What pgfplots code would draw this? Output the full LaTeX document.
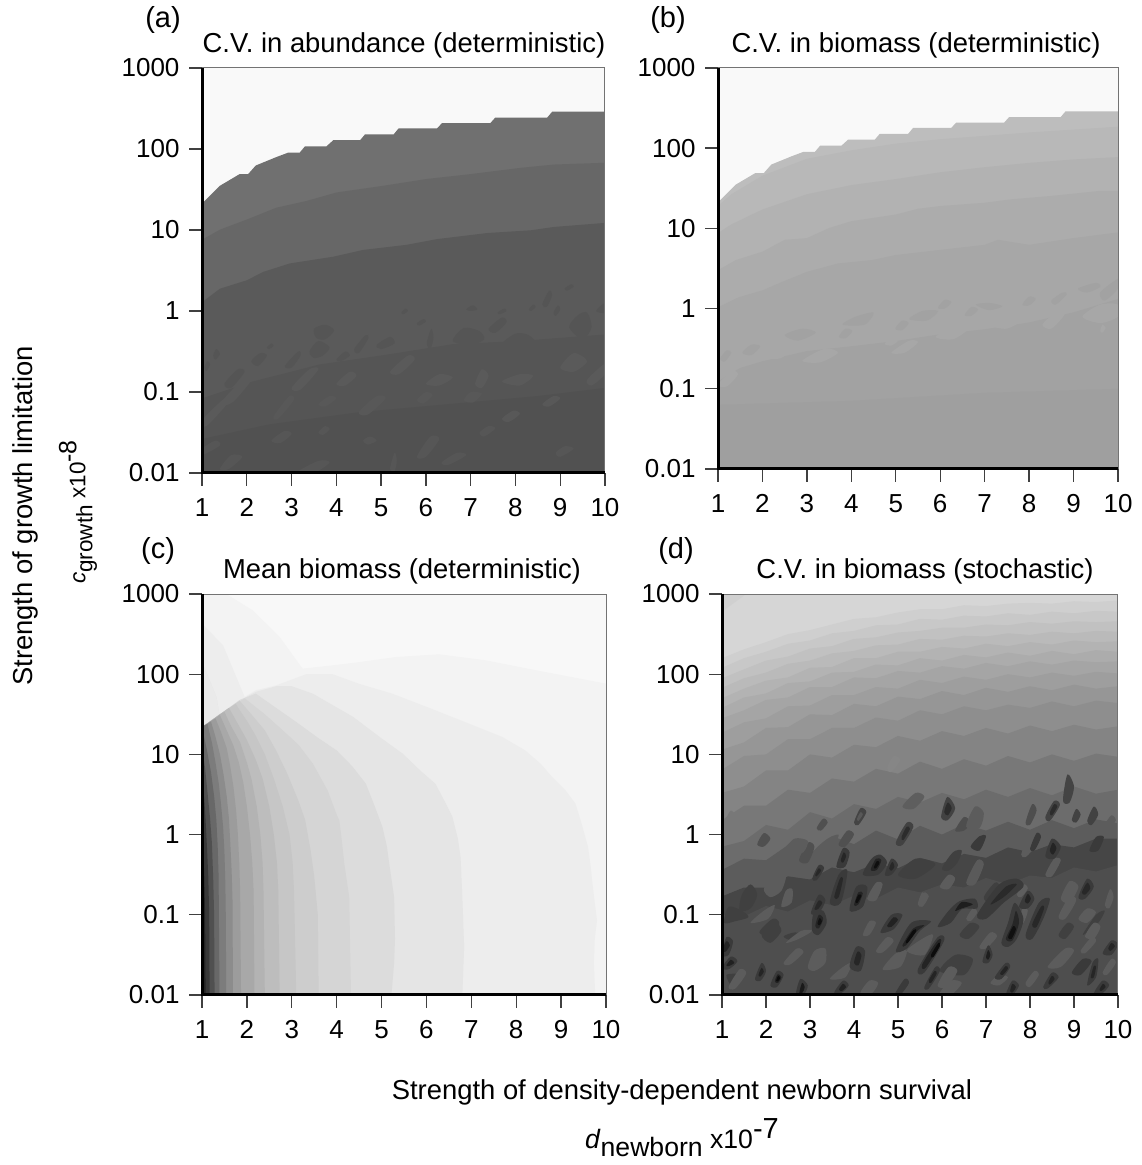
\documentclass[border=0pt]{standalone}
\usepackage{pgfplots}
\pgfplotsset{compat=1.18}
\usepackage{fontspec}
\setmainfont{Liberation Sans}
\newcommand\PG[2]{\addplot[draw=none,fill={rgb,255:red,#1;green,#1;blue,#1},forget plot] coordinates {#2} --cycle;}
\newcommand\B[2]{\addplot[draw=none,fill={rgb,255:red,#1;green,#1;blue,#1},forget plot,smooth cycle,tension=0.5] coordinates {#2};}
\newcommand\BH[2]{\PG{#1}{#2 (10,-2) (1,-2)}}
\newcommand\BC[2]{\PG{#1}{#2 (1,-2)}}
\pgfplotsset{pan/.style={scale only axis,anchor=south west,xmin=1,xmax=10,ymin=-2,ymax=3,
  xtick={1,...,10},xticklabels={1,2,3,4,5,6,7,8,9,10},
  ytick={-2,-1,0,1,2,3},yticklabels={0.01,0.1,1,10,100,1000},
  tick pos=left,tick align=outside,major tick length=13pt,
  major tick style={line width=1.4pt,color=black!75},
  axis line style={line width=1pt,color=black!55},
  axis on top,no markers,
  tick label style={font=\fontsize{26}{28}\selectfont},
  xticklabel style={yshift=-9pt},yticklabel style={xshift=-6pt}}}
\newcommand\TXT{\fontsize{27.4}{30}\selectfont}
\begin{document}
\begin{tikzpicture}[x=1pt,y=1pt]
\useasboundingbox (0,0) rectangle (1141,1165);
% ---------- (a)
\begin{axis}[pan,at={(202pt,692pt)},width=403pt,height=405pt]
\PG{249}{(1,-2)(1,3)(10,3)(10,-2)}
\BH{112}{(1,1.325)(1.4,1.546)(1.84,1.69)(2.03,1.69)(2.2,1.796)(2.66,1.9)(2.92,1.954)(3.18,1.954)(3.3,2.033)(3.78,2.033)(3.93,2.108)(4.53,2.108)(4.64,2.18)(5.28,2.18)(5.39,2.254)(6.25,2.254)(6.36,2.32)(7.44,2.32)(7.55,2.388)(8.71,2.388)(8.82,2.46)(10,2.46)}
\BH{103}{(1,.879)(1.4,1.004)(2,1.129)(2.66,1.275)(3.33,1.358)(4,1.4625)(5.05,1.546)(6.02,1.63)(7,1.69)(8.11,1.767)(8.86,1.808)(10,1.83)}
\BH{90}{(1,.108)(1.4,.275)(2,.379)(2.37,.483)(2.96,.587)(3.93,.67)(4.6,.754)(5.57,.817)(6.25,.8875)(7.37,.9625)(8.34,.996)(8.86,1.0375)(10,1.0875)}
\BH{85}{(1,-1.08)(2.14,-.87)(3.63,-.66)(5.12,-.54)(6.6,-.41)(8.1,-.37)(10,-.29)}
\BH{81}{(1,-1.58)(2.5,-1.4)(4.5,-1.25)(6.5,-1.15)(8.5,-1.05)(10,-.95)}
% dark flecks in band 3
\B{85}{(3.5,-.22)(3.75,-.17)(3.95,-.24)(3.75,-.35)(3.55,-.33)}
\B{85}{(6.02,-.4)(6.12,-.22)(6.17,-.33)(6.1,-.47)}
\B{85}{(4.4,-.47)(4.65,-.3)(4.72,-.33)(4.5,-.52)}
\B{85}{(4.9,-.42)(5.2,-.32)(5.3,-.4)(5,-.47)}
\B{85}{(3.4,-.5)(3.6,-.37)(3.85,-.45)(3.7,-.55)(3.5,-.58)}
\B{85}{(1.25,-.55)(1.32,-.47)(1.4,-.53)(1.3,-.6)}
\B{85}{(2.85,-.68)(3.15,-.5)(3.2,-.55)(3,-.7)}
\B{85}{(4,-.6)(4.2,-.5)(4.3,-.55)(4.1,-.62)}
\B{85}{(6.6,-.37)(6.85,-.21)(7.2,-.25)(7.3,-.35)(7,-.42)}
\B{85}{(7.4,-.22)(7.7,-.08)(7.8,-.14)(7.55,-.27)}
\B{85}{(8.6,.08)(8.75,.25)(8.82,.2)(8.7,.05)}
\B{85}{(9.2,-.2)(9.4,-.05)(9.6,-.02)(9.7,-.2)(9.5,-.35)}
\B{85}{(9.8,0)(10,.1)(10,-.02)}
\B{85}{(8.85,-.02)(8.95,.07)(9,.02)(8.9,-.06)}
\B{85}{(6.9,.02)(7.05,.07)(7.15,.02)(7,0)}
\B{85}{(7.7,-.42)(8,-.28)(8.3,-.3)(8.6,-.45)(8.9,-.55)(8.5,-.6)(8.1,-.55)}
\B{85}{(9.3,-.55)(9.6,-.35)(10,-.38)(10,-.6)(9.6,-.65)}
\B{85}{(2.1,-.62)(2.3,-.52)(2.45,-.55)(2.25,-.68)}
\B{85}{(1.5,-.9)(1.8,-.72)(1.95,-.75)(1.65,-.95)}
\B{85}{(9.1,.28)(9.25,.33)(9.3,.3)(9.15,.25)}
\B{85}{(7.6,-.02)(7.75,.03)(7.8,0)(7.65,-.04)}
\B{85}{(5.45,-.02)(5.55,.03)(5.6,0)(5.5,-.04)}
\B{85}{(5.8,-.15)(5.95,-.1)(6,-.13)(5.85,-.18)}
\B{85}{(2.45,-.45)(2.55,-.4)(2.6,-.43)(2.5,-.47)}
\B{85}{(1.05,-.7)(1.12,-.62)(1.18,-.66)(1.1,-.74)}
\B{85}{(8.3,.02)(8.4,.08)(8.45,.05)(8.35,0)}
% lighter flecks in bands 4 and 5
\B{90}{(4,-.9)(4.3,-.75)(4.45,-.8)(4.2,-.92)}
\B{90}{(7.1,-.9)(7.25,-.72)(7.4,-.8)(7.25,-.95)}
\B{90}{(7.7,-.87)(8.1,-.78)(8.4,-.8)(8.1,-.92)}
\B{90}{(5.2,-.75)(5.6,-.55)(5.75,-.6)(5.4,-.78)}
\B{90}{(3,-.95)(3.4,-.72)(3.6,-.72)(3.2,-.97)}
\B{90}{(1.4,-1.15)(1.9,-.85)(2.2,-.78)(1.7,-1.12)}
\B{90}{(1,-1.35)(1.5,-1.08)(1.6,-1.12)(1.1,-1.42)}
\B{90}{(9,-.7)(9.3,-.52)(9.6,-.62)(9.3,-.75)}
\B{90}{(9.6,-.85)(10,-.65)(10,-.78)(9.7,-.92)}
\B{90}{(6,-.9)(6.3,-.78)(6.6,-.82)(6.3,-.92)}
\B{88}{(4.5,-1.25)(4.9,-1.05)(5.1,-1.08)(4.7,-1.28)}
\B{88}{(6.85,-1.1)(7,-1)(7.25,-1.02)(7.05,-1.13)}
\B{88}{(2.6,-1.3)(2.95,-1.05)(3.05,-1.1)(2.7,-1.33)}
\B{88}{(7.7,-1.33)(7.95,-1.23)(8.1,-1.27)(7.85,-1.37)}
\B{88}{(5.8,-1.1)(6,-1)(6.15,-1.04)(5.95,-1.14)}
\B{88}{(8.6,-1.15)(8.85,-1.05)(9,-1.08)(8.75,-1.18)}
\B{88}{(3.6,-1.15)(3.85,-1.05)(4,-1.08)(3.75,-1.18)}
\B{86}{(5.8,-1.8)(6.1,-1.55)(6.3,-1.58)(6,-1.8)}
\B{86}{(1.4,-1.95)(1.65,-1.78)(1.9,-1.8)(1.6,-1.95)}
\B{86}{(2.55,-1.6)(2.85,-1.48)(3,-1.52)(2.75,-1.63)}
\B{86}{(1,-1.7)(1.3,-1.6)(1.4,-1.66)(1,-1.78)}
\B{86}{(6.35,-1.87)(6.7,-1.75)(6.9,-1.78)(6.5,-1.9)}
\B{86}{(3.1,-2)(3.6,-1.85)(3.85,-1.87)(3.5,-2)}
\B{86}{(5.2,-1.95)(5.3,-1.75)(5.35,-1.85)(5.3,-1.98)}
\B{86}{(8.9,-1.75)(9.1,-1.67)(9.3,-1.7)(9,-1.8)}
\B{86}{(4.6,-1.6)(4.75,-1.55)(4.9,-1.6)(4.7,-1.65)}
\B{86}{(7.2,-1.5)(7.4,-1.42)(7.55,-1.45)(7.3,-1.55)}
\B{86}{(3.6,-1.5)(3.75,-1.42)(3.85,-1.46)(3.7,-1.53)}
\end{axis}
% ---------- (b)
\begin{axis}[pan,at={(718pt,696pt)},width=400pt,height=401pt]
\PG{249}{(1,-2)(1,3)(10,3)(10,-2)}
\BH{189}{(1,1.325)(1.4,1.546)(1.84,1.69)(2.03,1.69)(2.2,1.796)(2.66,1.9)(2.92,1.954)(3.18,1.954)(3.3,2.033)(3.78,2.033)(3.93,2.108)(4.53,2.108)(4.64,2.18)(5.28,2.18)(5.39,2.254)(6.25,2.254)(6.36,2.32)(7.44,2.32)(7.55,2.388)(8.71,2.388)(8.82,2.46)(10,2.46)}
\BH{184}{(1,1.28)(1.3,1.426)(2,1.657)(3,1.868)(4,1.973)(5,2.057)(6,2.112)(8,2.196)(10,2.268)}
\BH{178}{(1,.942)(1.3,1.05)(2,1.236)(3,1.426)(4,1.54)(5,1.615)(6,1.7)(7,1.763)(8,1.817)(9,1.86)(10,1.889)}
\BH{172}{(1,.479)(1.4,.605)(2,.71)(2.5,.858)(3,.879)(3.5,1.005)(4,1.09)(5,1.173)(5.5,1.245)(6,1.279)(7,1.32)(7.6,1.363)(8.5,1.405)(9.6,1.468)(10,1.468)}
\BH{167}{(1,.016)(1.47,.142)(2,.227)(2.44,.332)(3,.458)(3.7,.563)(4.47,.605)(5,.668)(6,.732)(7,.795)(7.3,.858)(8,.795)(9,.879)(10,.95)}
\BH{162}{(1,-.91)(1.5,-.74)(2,-.657)(3,-.53)(4,-.47)(5,-.405)(6,-.32)(7,-.258)(8,-.173)(9,-.047)(10,.12)}
\BH{159}{(1,-1.2)(4,-1.15)(7,-1.05)(10,-1)}
\B{167}{(1,-.75)(1.25,-.5)(1.4,-.55)(1.15,-.8)}
\B{167}{(1,-.95)(1.3,-.78)(1.45,-.82)(1.2,-.97)}
\B{167}{(1.8,-.62)(2.2,-.5)(2.6,-.5)(2.4,-.62)}
\B{167}{(2.9,-.65)(3.4,-.5)(3.7,-.55)(3.3,-.67)}
\B{167}{(4.9,-.55)(5.3,-.4)(5.5,-.42)(5.2,-.55)}
\B{167}{(5.9,-.35)(6.4,-.2)(6.7,-.22)(6.3,-.38)}
\B{167}{(7.1,-.2)(7.5,-.1)(7.9,-.12)(7.5,-.25)}
\B{167}{(8.3,-.2)(8.6,-.05)(8.8,-.07)(8.5,-.25)}
\B{167}{(9.2,-.1)(9.6,.05)(10,.05)(10,-.1)(9.6,-.18)}
\B{167}{(9.6,-.28)(9.65,-.2)(9.72,-.24)(9.65,-.3)}
\B{167}{(3.95,-.4)(4.1,-.33)(4.25,-.36)(4.1,-.42)}
\B{167}{(4.75,-.44)(4.9,-.37)(5.05,-.4)(4.9,-.46)}
\B{162}{(3.8,-.2)(4.1,-.1)(4.5,-.05)(4.3,-.2)}
\B{162}{(5.3,-.13)(5.6,-.03)(5.95,-.03)(5.7,-.15)}
\B{162}{(6.8,.05)(7.1,.07)(7.4,.03)(7.1,-.02)}
\B{162}{(8.5,.1)(8.75,.2)(8.85,.18)(8.6,.05)}
\B{162}{(9.1,.25)(9.5,.32)(9.6,.27)(9.3,.2)}
\B{162}{(9.6,.2)(10,.37)(10,.25)(9.7,.1)}
\B{162}{(2.5,-.33)(2.9,-.25)(3.2,-.3)(2.8,-.4)}
\B{162}{(3.72,-.35)(3.87,-.25)(4.02,-.28)(3.87,-.37)}
\B{162}{(4.99,-.25)(5.14,-.15)(5.29,-.18)(5.14,-.27)}
\B{162}{(5.95,.01)(6.1,.11)(6.25,.08)(6.1,0)}
\B{162}{(6.55,-.08)(6.7,.02)(6.85,-.01)(6.7,-.09)}
\B{162}{(7.85,.05)(8,.15)(8.15,.12)(8,.04)}
\B{162}{(1.55,-.55)(1.75,-.45)(1.95,-.47)(1.75,-.58)}
\B{162}{(1.05,-.62)(1.2,-.52)(1.3,-.55)(1.15,-.66)}
\end{axis}
% ---------- (c)
\begin{axis}[pan,at={(202pt,170pt)},width=404pt,height=401pt]
\PG{248}{(1,-2)(1,3)(10,3)(10,-2)}
\BH{243}{(1,3)(1.54,3)(2.13,2.796)(2.73,2.464)(3.24,2.069)(3.91,2.11)(4.5,2.15)(5.32,2.214)(6.28,2.248)(7.32,2.173)(8.43,2.05)(10,1.882)}
\BC{237}{(1,2.63)(1.47,2.36)(1.95,1.716)(2.2,1.8)(2.65,1.86)(3.32,2)(3.91,2)(4.5,1.88)(5.24,1.757)(6.2,1.55)(7.32,1.3)(7.69,1.217)(8.2,1.05)(8.55,.88)(8.8,.718)(9.1,.55)(9.32,.386)(9.45,.15)(9.6,-.155)(9.66,-.4)(9.69,-.57)(9.75,-.85)(9.8,-1.07)(9.75,-1.3)(9.73,-1.6)(9.76,-2)}
\BC{229}{(1,2.15)(1.32,1.716)(1.39,1.487)(1.84,1.674)(2.2,1.78)(2.65,1.85)(3,1.85)(3.47,1.757)(4.36,1.47)(5,1.2)(5.47,1.01)(5.9,.78)(6.2,.635)(6.42,.4)(6.58,.22)(6.7,-.05)(6.76,-.28)(6.8,-.78)(6.84,-1.4)(6.8,-2)}
\PG{234}{(1,2.15)(1.32,1.716)(1.39,1.487)(1,1.34)}
\BC{220}{(1,1.34)(1.4,1.5)(1.84,1.68)(2.2,1.757)(2.65,1.58)(3.1,1.404)(3.6,1.2)(4,1.05)(4.35,.85)(4.65,.635)(4.85,.35)(5.02,.095)(5.12,-.15)(5.17,-.36)(5.28,-.78)(5.3,-1.3)(5.28,-1.6)(5.22,-2)}
\BC{213}{(1,1.34)(1.4,1.5)(1.95,1.7)(2.4,1.5)(2.8,1.3)(3.15,1.12)(3.47,.885)(3.8,.55)(4,.25)(4.06,.178)(4.12,-.1)(4.17,-.36)(4.28,-.78)(4.3,-1.4)(4.32,-2)}
\BC{205}{(1,1.34)(1.4,1.5)(1.84,1.67)(2.1,1.5)(2.4,1.3)(2.65,1.05)(2.9,.76)(3.15,.42)(3.3,.18)(3.42,-.2)(3.5,-.52)(3.58,-1)(3.6,-2)}
\BC{198}{(1,1.34)(1.4,1.5)(1.75,1.63)(2,1.42)(2.2,1.23)(2.4,1)(2.6,.7)(2.8,.35)(2.95,0)(3.02,-.35)(3.05,-.7)(3.1,-2)}
\BC{189}{(1,1.34)(1.4,1.5)(1.6,1.58)(1.8,1.38)(2,1.18)(2.2,.93)(2.35,.7)(2.5,.35)(2.6,0)(2.67,-.35)(2.7,-.7)(2.73,-2)}
\BC{179}{(1,1.34)(1.4,1.5)(1.5,1.53)(1.65,1.35)(1.85,1.15)(2,.9)(2.1,.7)(2.22,.35)(2.3,0)(2.35,-.35)(2.37,-.7)(2.4,-2)}
\BC{168}{(1,1.34)(1.4,1.49)(1.55,1.3)(1.7,1.11)(1.82,.9)(1.92,.65)(2,.35)(2.07,0)(2.12,-.35)(2.15,-.7)(2.17,-2)}
\BC{156}{(1,1.34)(1.3,1.45)(1.43,1.27)(1.55,1.08)(1.63,.85)(1.7,.6)(1.76,.3)(1.8,0)(1.83,-.35)(1.85,-.7)(1.87,-2)}
\BC{140}{(1,1.34)(1.2,1.41)(1.3,1.22)(1.4,1)(1.48,.75)(1.55,.48)(1.6,.2)(1.63,-.1)(1.66,-.45)(1.68,-.82)(1.69,-2)}
\BC{124}{(1,1.34)(1.12,1.38)(1.22,1.15)(1.3,.9)(1.37,.65)(1.42,.4)(1.47,.1)(1.5,-.22)(1.52,-.6)(1.53,-1)(1.54,-2)}
\BC{104}{(1,1.34)(1.1,1.08)(1.2,.78)(1.27,.48)(1.32,.18)(1.35,-.15)(1.37,-.52)(1.39,-2)}
\BC{80}{(1,1.08)(1.07,.82)(1.12,.54)(1.18,.2)(1.22,-.1)(1.25,-.55)(1.27,-1)(1.28,-2)}
\BC{56}{(1,.7)(1.05,.45)(1.08,.18)(1.11,-.15)(1.14,-.52)(1.16,-1)(1.17,-2)}
\BC{35}{(1,.18)(1.03,-.15)(1.05,-.52)(1.07,-1)(1.08,-2)}
\BC{25}{(1,-.3)(1.02,-.6)(1.03,-1)(1.04,-2)}
\end{axis}
% ---------- (d)
\begin{axis}[pan,at={(722pt,170pt)},width=396pt,height=401pt]
\PG{214}{(1,-2)(1,3)(10,3)(10,-2)}
\PG{208}{(1,3)(1.55,3)(1.25,2.88)(1,2.78)}
\BH{207}{(1,2.2)(1.5,2.31)(2,2.4)(2.5,2.5)(3,2.55)(3.5,2.62)(4,2.69)(4.5,2.71)(5,2.77)(5.5,2.81)(6,2.81)(6.5,2.86)(7,2.85)(7.5,2.88)(8,2.89)(8.5,2.88)(9,2.91)(9.5,2.9)(10,2.92)}
\BH{200}{(1,2.08)(1.5,2.2)(2,2.28)(2.5,2.38)(3,2.42)(3.5,2.51)(4,2.54)(4.5,2.61)(5,2.62)(5.5,2.69)(6,2.68)(6.5,2.73)(7,2.72)(7.5,2.76)(8,2.74)(8.5,2.78)(9,2.76)(9.5,2.79)(10,2.78)}
\BH{193}{(1,1.95)(1.5,2.06)(2,2.17)(2.5,2.22)(3,2.32)(3.5,2.35)(4,2.44)(4.5,2.46)(5,2.52)(5.5,2.54)(6,2.58)(6.5,2.58)(7,2.62)(7.5,2.61)(8,2.65)(8.5,2.63)(9,2.66)(9.5,2.65)(10,2.66)}
\BH{186}{(1,1.83)(1.5,1.95)(2,2.02)(2.5,2.13)(3,2.17)(3.5,2.26)(4,2.29)(4.5,2.36)(5,2.37)(5.5,2.44)(6,2.43)(6.5,2.48)(7,2.47)(7.5,2.51)(8,2.49)(8.5,2.53)(9,2.51)(9.5,2.54)(10,2.53)}
\BH{179}{(1,1.7)(1.5,1.82)(2,1.92)(2.5,1.96)(3,2.08)(3.5,2.09)(4,2.2)(4.5,2.2)(5,2.28)(5.5,2.28)(6,2.34)(6.5,2.32)(7,2.38)(7.5,2.35)(8,2.4)(8.5,2.37)(9,2.42)(9.5,2.4)(10,2.41)}
\BH{172}{(1,1.58)(1.5,1.71)(2,1.76)(2.5,1.89)(3,1.91)(3.5,2.02)(4,2.03)(4.5,2.12)(5,2.11)(5.5,2.2)(6,2.17)(6.5,2.24)(7,2.21)(7.5,2.27)(8,2.23)(8.5,2.29)(9,2.25)(9.5,2.3)(10,2.28)}
\BH{165}{(1,1.45)(1.5,1.55)(2,1.68)(2.5,1.71)(3,1.84)(3.5,1.84)(4,1.96)(4.5,1.95)(5,2.04)(5.5,2.02)(6,2.1)(6.5,2.07)(7,2.14)(7.5,2.1)(8,2.16)(8.5,2.12)(9,2.17)(9.5,2.15)(10,2.16)}
\BH{158}{(1,1.27)(1.5,1.4)(2,1.45)(2.5,1.6)(3,1.61)(3.5,1.74)(4,1.74)(4.5,1.84)(5,1.82)(5.5,1.93)(6,1.89)(6.5,1.97)(7,1.93)(7.5,2)(8,1.96)(8.5,2.02)(9,1.98)(9.5,2.03)(10,2.01)}
\BH{150}{(1,1.06)(1.5,1.15)(2,1.33)(2.5,1.34)(3,1.5)(3.5,1.49)(4,1.63)(4.5,1.6)(5,1.72)(5.5,1.69)(6,1.79)(6.5,1.74)(7,1.83)(7.5,1.78)(8,1.85)(8.5,1.8)(9,1.87)(9.5,1.82)(10,1.85)}
\BH{142}{(1,.81)(1.5,.98)(2,1)(2.5,1.19)(3,1.19)(3.5,1.33)(4,1.33)(4.5,1.46)(5,1.42)(5.5,1.55)(6,1.5)(6.5,1.6)(7,1.55)(7.5,1.62)(8,1.58)(8.5,1.66)(9,1.6)(9.5,1.67)(10,1.64)}
\BH{132}{(1,.52)(1.5,.6)(2,.8)(2.5,.8)(3,1)(3.5,.96)(4,1.12)(4.5,1.09)(5,1.23)(5.5,1.17)(6,1.29)(6.5,1.23)(7,1.33)(7.5,1.26)(8,1.36)(8.5,1.29)(9,1.37)(9.5,1.31)(10,1.35)}
\BH{120}{(1,.18)(1.5,.36)(2,.36)(2.5,.56)(3,.52)(3.5,.7)(4,.66)(4.5,.82)(5,.76)(5.5,.91)(6,.82)(6.5,.94)(7,.86)(7.5,.98)(8,.9)(8.5,1)(9,.92)(9.5,1.01)(10,.97)}
\BH{108}{(1,-.15)(1.5,-.08)(2,.12)(2.5,.06)(3,.28)(3.5,.2)(4,.38)(4.5,.32)(5,.47)(5.5,.4)(6,.52)(6.5,.44)(7,.56)(7.5,.47)(8,.58)(8.5,.49)(9,.6)(9.5,.51)(10,.56)}
\BH{92}{(1,-.44)(1.5,-.3)(2,-.32)(2.5,-.13)(3,-.24)(3.5,-.02)(4,-.12)(4.5,.05)(5,-.06)(5.5,.11)(6,0)(6.5,.13)(7,.05)(7.5,.16)(8,.06)(8.5,.18)(9,.08)(9.5,.19)(10,.14)}
\BH{70}{(1,-.77)(1.5,-.66)(2,-.66)(2.5,-.52)(3,-.56)(3.5,-.41)(4,-.47)(4.5,-.36)(5,-.42)(5.5,-.29)(6,-.36)(6.5,-.24)(7,-.29)(7.5,-.16)(8,-.22)(8.5,-.12)(9,-.16)(9.5,-.05)(10,-.05)}
\BH{78}{(1,-1)(1.5,-1.02)(2,-.89)(2.5,-.96)(3,-.82)(3.5,-.88)(4,-.76)(4.5,-.8)(5,-.66)(5.5,-.72)(6,-.62)(6.5,-.66)(7,-.54)(7.5,-.62)(8,-.51)(8.5,-.54)(9,-.41)(9.5,-.46)(10,-.38)}
% mid-dark terrain
\B{64}{(1.4,-.95)(1.45,-.75)(1.65,-.62)(1.8,-.75)(1.65,-.92)}
\B{64}{(1.05,-1.1)(1.15,-.9)(1.45,-.95)(1.6,-1.03)(1.3,-1.08)}
\B{64}{(1.85,-1.22)(2.15,-1.05)(2.3,-1.1)(2.2,-1.28)}
\B{64}{(2.4,-1.27)(2.65,-1.22)(2.9,-1.25)(2.6,-1.32)}
\B{80}{(2.75,-.32)(2.95,-.1)(3.1,-.15)(2.95,-.35)}
\B{80}{(1.8,-.12)(1.95,.02)(2.1,-.05)(1.95,-.15)}
\B{80}{(3.65,-.12)(3.85,.05)(4,0)(3.8,-.15)}
\B{80}{(3.15,.08)(3.3,.2)(3.4,.15)(3.25,.05)}
\B{64}{(6,-.42)(6.25,-.22)(6.45,-.2)(6.35,-.35)(6.15,-.45)}
\B{78}{(6.3,.05)(6.5,.22)(6.65,.15)(6.5,.05)}
\B{78}{(7.9,.15)(8.05,.38)(8.15,.3)(8,.12)}
\B{64}{(6.95,-.78)(7.2,-.6)(7.3,-.65)(7.1,-.85)}
\B{64}{(8.65,-1.25)(8.85,-1.1)(9,-1.15)(8.8,-1.3)}
\B{64}{(9.2,-1.25)(9.5,-1)(9.7,-.95)(9.55,-1.1)}
\B{64}{(6.4,-1.25)(6.65,-1.1)(6.85,-1.15)(6.6,-1.3)}
\B{64}{(5,-.5)(5.4,-.3)(5.85,-.37)(5.4,-.55)}
\B{64}{(1.9,-1.25)(2.2,-1.1)(2.35,-1.2)(2.1,-1.35)}
\B{64}{(5.95,-1.7)(6.3,-1.5)(6.7,-1.55)(6.5,-1.75)}
\B{64}{(1.25,-1.9)(1.45,-1.75)(1.1,-1.75)}
% light patches
\B{92}{(2.4,-.2)(2.65,-.05)(2.95,-.08)(2.85,-.22)(2.6,-.25)}
\B{92}{(3.1,-.2)(3.4,-.05)(3.65,0)(3.55,-.12)(3.3,-.25)}
\B{92}{(1.95,-.68)(2.15,-.52)(2.45,-.5)(2.35,-.7)(2.1,-.78)}
\B{92}{(2.35,-.9)(2.45,-.7)(2.6,-.68)(2.58,-.85)}
\B{92}{(1.65,-1.1)(1.95,-.95)(2.2,-.88)(2.05,-1.05)}
\B{92}{(2.95,-1.65)(3.1,-1.45)(3.35,-1.42)(3.35,-1.6)(3.1,-1.7)}
\B{92}{(4.65,-1.68)(4.95,-1.48)(5.2,-1.45)(5.05,-1.65)}
\B{92}{(3.45,-1.8)(3.75,-1.65)(3.95,-1.6)(3.8,-1.78)}
\B{92}{(4.15,-1.97)(4.35,-1.82)(4.55,-1.85)(4.4,-1.98)}
\B{92}{(2.45,-1.35)(2.8,-1.2)(3.05,-1.2)(2.75,-1.3)}
\B{92}{(4.3,-.8)(4.5,-.6)(4.65,-.62)(4.5,-.82)}
\B{92}{(4.2,-1.25)(4.35,-1.08)(4.5,-1.1)(4.35,-1.25)}
\B{120}{(1.1,.2)(1.2,.3)(1.3,.24)(1.2,.17)}
\B{92}{(5.2,-1.45)(5.55,-1.3)(5.8,-1.25)(5.6,-1.5)}
\B{92}{(5.45,-.87)(5.55,-.72)(5.67,-.8)(5.55,-.9)}
\B{92}{(8.65,-1.02)(8.9,-.77)(9.05,-.82)(8.8,-1.05)}
\B{92}{(9.7,-.88)(9.82,-.68)(9.9,-.78)(9.8,-.92)}
\B{92}{(7.8,-.25)(7.95,-.05)(8.1,-.15)(7.9,-.28)}
\B{92}{(6.55,.1)(6.75,.35)(6.95,.27)(6.85,.08)}
\B{134}{(4.75,.83)(4.9,.98)(5.05,.93)(4.85,.78)}
\B{94}{(5.1,.35)(5.4,.52)(5.6,.47)(5.35,.32)}
\B{92}{(6.85,-1.4)(7.1,-1.22)(7.25,-1.27)(7,-1.42)}
\B{92}{(5.9,-1.88)(6.15,-1.65)(6.35,-1.7)(6.1,-1.9)}
\B{92}{(8.4,-1.65)(8.8,-1.42)(9,-1.45)(8.7,-1.65)}
\B{90}{(6.55,-.6)(6.8,-.32)(6.95,-.37)(6.75,-.62)}
\B{92}{(1.15,-1.9)(1.4,-1.68)(1.55,-1.73)(1.3,-1.92)}
\B{92}{(9.15,-1.45)(9.4,-1.28)(9.5,-1.33)(9.25,-1.48)}
\B{92}{(9.65,-1.72)(9.85,-1.55)(9.95,-1.6)(9.75,-1.75)}
\B{92}{(4.5,-1.45)(4.75,-1.28)(4.9,-1.33)(4.65,-1.47)}
\B{92}{(6.55,-1.05)(6.7,-.92)(6.8,-.97)(6.65,-1.08)}
\B{92}{(7.9,-1.85)(8.1,-1.7)(8.2,-1.75)(8,-1.9)}
\B{92}{(2.4,-1.6)(2.7,-1.42)(2.85,-1.47)(2.55,-1.62)}
\B{92}{(6.4,-.15)(6.55,-.02)(6.65,-.08)(6.5,-.17)}
\B{94}{(7.7,-.75)(7.85,-.62)(7.95,-.67)(7.8,-.78)}
\B{94}{(7.75,-1.08)(7.85,-.9)(7.95,-.95)(7.85,-1.1)}
\B{92}{(8.35,-.5)(8.55,-.3)(8.7,-.32)(8.5,-.52)}
\B{92}{(9.7,.12)(9.85,.24)(9.95,.18)(9.8,.08)}
\B{92}{(8.7,-.8)(8.9,-.58)(9.1,-.65)(8.9,-.85)}
\B{92}{(9.1,-1.05)(9.3,-.92)(9.5,-.97)(9.3,-1.1)}
\B{92}{(5.95,-1.98)(6.2,-1.82)(6.45,-1.85)(6.2,-2)}
\B{92}{(5.5,-.83)(5.6,-.72)(5.7,-.77)(5.6,-.85)}
\B{92}{(5.95,-.65)(6.15,-.5)(6.3,-.55)(6.15,-.68)}
\B{92}{(7.1,-1.85)(7.3,-1.75)(7.5,-1.78)(7.3,-1.88)}
\B{92}{(9.25,-1.27)(9.45,-1.1)(9.6,-1.15)(9.45,-1.3)}
% dark rings
\B{58}{(4.2,-.5)(4.4,-.3)(4.6,-.25)(4.75,-.35)(4.55,-.5)}\B{36}{(4.38,-.44)(4.5,-.3)(4.62,-.32)(4.52,-.44)}\B{15}{(4.45,-.41)(4.52,-.33)(4.58,-.35)(4.5,-.42)}
\B{58}{(4.7,-.5)(4.85,-.3)(5,-.38)(4.85,-.5)}\B{40}{(4.8,-.42)(4.87,-.34)(4.92,-.4)(4.85,-.45)}
\B{58}{(3.6,-.4)(3.75,-.17)(3.9,-.22)(3.8,-.4)}\B{38}{(3.7,-.32)(3.77,-.22)(3.82,-.27)(3.75,-.35)}
\B{58}{(3.45,-.85)(3.65,-.5)(3.85,-.45)(3.7,-.85)}\B{40}{(3.55,-.78)(3.68,-.55)(3.75,-.55)(3.65,-.78)}
\B{58}{(3.9,-.95)(4.05,-.65)(4.3,-.65)(4.2,-.9)}\B{36}{(4,-.88)(4.1,-.72)(4.2,-.73)(4.1,-.87)}\B{14}{(4.03,-.84)(4.1,-.75)(4.17,-.76)(4.08,-.85)}
\B{58}{(3.05,-1.2)(3.08,-.98)(3.3,-.95)(3.38,-1.1)(3.2,-1.25)}\B{38}{(3.12,-1.14)(3.2,-1)(3.3,-1.05)(3.2,-1.17)}\B{18}{(3.17,-1.11)(3.22,-1.04)(3.27,-1.08)(3.22,-1.13)}
\B{58}{(3.02,-.98)(3.2,-.75)(3.35,-.82)(3.2,-.98)}\B{40}{(3.1,-.93)(3.2,-.82)(3.28,-.85)(3.18,-.93)}
\B{58}{(4.6,-1.22)(4.85,-1)(5.1,-1)(4.9,-1.18)}\B{34}{(4.75,-1.14)(4.9,-1.03)(5,-1.06)(4.85,-1.15)}
\B{58}{(4.95,-1.45)(5.3,-1.1)(5.75,-1.08)(5.5,-1.2)(5.2,-1.42)}\B{36}{(5.1,-1.38)(5.35,-1.17)(5.6,-1.13)(5.4,-1.22)(5.18,-1.38)}\B{12}{(5.18,-1.33)(5.35,-1.19)(5.42,-1.2)(5.22,-1.35)}
\B{58}{(5.45,-1.68)(5.9,-1.28)(6.05,-1.32)(5.6,-1.72)}\B{36}{(5.55,-1.62)(5.9,-1.32)(5.97,-1.35)(5.63,-1.66)}\B{12}{(5.75,-1.5)(5.92,-1.35)(5.96,-1.38)(5.8,-1.53)}
\B{58}{(5.6,-1.9)(5.85,-1.65)(5.95,-1.7)(5.7,-1.92)}\B{36}{(5.7,-1.82)(5.83,-1.7)(5.88,-1.73)(5.75,-1.85)}
\B{58}{(5.9,-1.15)(6.15,-.95)(6.4,-.83)(6.75,-.8)(6.8,-.92)(6.45,-.93)(6.2,-1.1)}\B{30}{(6.3,-.95)(6.45,-.84)(6.7,-.87)(6.45,-.92)}
\B{58}{(7.35,-1.35)(7.5,-1.1)(7.65,-.85)(7.85,-1.05)(7.7,-1.3)(7.5,-1.4)}\B{38}{(7.45,-1.3)(7.6,-1.12)(7.68,-.95)(7.75,-1.1)(7.6,-1.32)}\B{16}{(7.5,-1.28)(7.62,-1.14)(7.68,-1.18)(7.58,-1.3)}
\B{58}{(6.92,-1.58)(7.05,-1.38)(7.15,-1.5)(7.05,-1.6)}\B{30}{(7,-1.53)(7.05,-1.44)(7.1,-1.5)(7.05,-1.56)}
\B{58}{(7.2,-1.78)(7.45,-1.6)(7.55,-1.65)(7.35,-1.8)}\B{36}{(7.32,-1.73)(7.45,-1.64)(7.5,-1.67)(7.38,-1.75)}
\B{58}{(7.75,-.9)(7.95,-.7)(8.1,-.8)(7.95,-.92)}\B{36}{(7.88,-.83)(7.95,-.74)(8.02,-.8)(7.95,-.86)}
\B{58}{(7.9,-1.25)(8.2,-.85)(8.45,-.8)(8.3,-1.05)(8.05,-1.3)}\B{40}{(8.05,-1.12)(8.25,-.9)(8.32,-.92)(8.15,-1.15)}
\B{58}{(6.8,-1)(7.3,-.62)(7.7,-.55)(7.85,-.65)(7.4,-.85)(7,-1.05)}\B{42}{(7.1,-.87)(7.45,-.65)(7.7,-.62)(7.4,-.78)}
\B{58}{(8.35,-.27)(8.5,-.05)(8.7,-.15)(8.55,-.3)}\B{36}{(8.45,-.2)(8.52,-.1)(8.6,-.17)(8.52,-.25)}
\B{58}{(9.1,-.78)(9.3,-.55)(9.45,-.65)(9.25,-.8)}\B{40}{(9.18,-.72)(9.3,-.6)(9.37,-.67)(9.25,-.75)}
\B{66}{(5.98,.22)(6.12,.47)(6.3,.33)(6.13,.18)}\B{44}{(6.05,.28)(6.13,.4)(6.22,.33)(6.13,.24)}
\B{66}{(8.35,.22)(8.55,.42)(8.68,.37)(8.45,.17)}\B{44}{(8.45,.27)(8.55,.38)(8.62,.35)(8.5,.24)}
\B{66}{(4.95,-.1)(5.2,.15)(5.35,.1)(5.1,-.13)}\B{44}{(5.08,-.03)(5.2,.1)(5.27,.07)(5.12,-.07)}
\B{58}{(2.1,-1.88)(2.25,-1.7)(2.4,-1.75)(2.25,-1.9)}\B{34}{(2.2,-1.83)(2.27,-1.74)(2.35,-1.78)(2.27,-1.85)}\B{12}{(2.23,-1.82)(2.28,-1.76)(2.32,-1.79)(2.27,-1.83)}
\B{58}{(1.75,-1.8)(1.9,-1.6)(2,-1.7)(1.88,-1.82)}\B{36}{(1.83,-1.75)(1.9,-1.66)(1.95,-1.71)(1.87,-1.77)}
\B{58}{(1,-1.66)(1.2,-1.52)(1.35,-1.58)(1.15,-1.68)}\B{32}{(1.1,-1.63)(1.2,-1.56)(1.28,-1.6)(1.15,-1.64)}
\B{58}{(1,-1.5)(1.1,-1.28)(1.25,-1.33)(1.15,-1.5)}\B{36}{(1,-1.45)(1.1,-1.33)(1.18,-1.38)(1.08,-1.46)}
\B{58}{(2.68,-2)(2.78,-1.8)(2.95,-1.88)(2.85,-2)}\B{26}{(2.76,-1.97)(2.82,-1.85)(2.88,-1.9)(2.83,-1.97)}
\B{58}{(3.55,-1.97)(3.75,-1.82)(3.88,-1.88)(3.7,-1.98)}\B{34}{(3.66,-1.93)(3.75,-1.86)(3.82,-1.9)(3.72,-1.95)}
\B{58}{(3.9,-1.65)(4.05,-1.4)(4.25,-1.45)(4.15,-1.7)}\B{38}{(4,-1.6)(4.08,-1.46)(4.17,-1.5)(4.1,-1.63)}
\B{58}{(8.3,-1.9)(8.5,-1.72)(8.65,-1.78)(8.4,-1.92)}\B{38}{(8.42,-1.84)(8.5,-1.76)(8.56,-1.8)(8.45,-1.87)}
\B{58}{(7.45,-2)(7.6,-1.82)(7.75,-1.88)(7.6,-2)}\B{36}{(7.55,-1.95)(7.6,-1.86)(7.68,-1.9)(7.6,-1.97)}
\B{58}{(9.45,-1.98)(9.65,-1.82)(9.8,-1.88)(9.6,-2)}\B{36}{(9.58,-1.93)(9.66,-1.86)(9.72,-1.9)(9.62,-1.95)}
\B{58}{(9.3,-1.88)(9.42,-1.6)(9.55,-1.55)(9.5,-1.78)}\B{38}{(9.38,-1.78)(9.45,-1.64)(9.5,-1.65)(9.45,-1.78)}
\B{58}{(8.95,-1.72)(9.2,-1.55)(9.4,-1.58)(9.15,-1.75)}
\B{58}{(9.65,-1.48)(9.85,-1.32)(10,-1.37)(9.85,-1.5)}\B{38}{(9.78,-1.42)(9.85,-1.35)(9.93,-1.39)(9.83,-1.45)}
\B{58}{(4.92,-2)(5.15,-1.8)(5.25,-1.85)(5.05,-2)}
\B{58}{(6.65,-.15)(6.85,-.02)(7,-.02)(6.85,-.2)}
\B{58}{(9.35,-.2)(9.5,-.03)(9.68,-.03)(9.55,-.2)}
\B{58}{(8,-.18)(8.15,.02)(8.25,-.03)(8.1,-.2)}
\B{68}{(8.75,.42)(8.85,.75)(9,.6)(8.9,.4)}
\B{66}{(8.95,.18)(9.05,.32)(9.15,.25)(9.05,.15)}
\B{66}{(9.3,.17)(9.45,.35)(9.55,.25)(9.4,.12)}
\B{68}{(4,.15)(4.15,.33)(4.28,.28)(4.1,.12)}\B{88}{(4.07,.2)(4.15,.28)(4.2,.25)(4.1,.17)}
\B{58}{(3.05,-.55)(3.2,-.38)(3.32,-.42)(3.15,-.57)}\B{40}{(3.12,-.5)(3.2,-.42)(3.25,-.45)(3.15,-.52)}
\end{axis}
% axis edges
\draw[line width=3pt,black] (202,1097)--(202,692)--(605,692);
\draw[line width=3pt,black] (718,1097)--(718,696)--(1118,696);
\draw[line width=3pt,black] (202,571)--(202,170)--(606,170);
\draw[line width=3pt,black] (722,571)--(722,170)--(1118,170);
% texts
\node[font=\fontsize{29}{30}\selectfont] at (163,1145) {(a)};
\node[font=\fontsize{29}{30}\selectfont] at (668,1145) {(b)};
\node[font=\fontsize{29}{30}\selectfont] at (158,614) {(c)};
\node[font=\fontsize{29}{30}\selectfont] at (676,614) {(d)};
\node[font=\TXT] at (404,1120) {C.V. in abundance (deterministic)};
\node[font=\TXT] at (916,1120) {C.V. in biomass (deterministic)};
\node[font=\TXT] at (402,594) {Mean biomass (deterministic)};
\node[font=\TXT] at (925,594) {C.V. in biomass (stochastic)};
\node[font=\TXT] at (682,73) {Strength of density-dependent newborn survival};
\node[font=\TXT,rotate=90] at (25,649) {Strength of growth limitation};
\node[font=\fontsize{22.5}{24}\selectfont,rotate=90] at (78,653) {\textit{c}\raisebox{-7pt}{growth} x10\raisebox{9pt}{\fontsize{25}{25}\selectfont -8}};
\node[font=\fontsize{26.6}{28}\selectfont] at (682,27) {\textit{d}\raisebox{-8pt}{newborn} x10\raisebox{10pt}{\fontsize{29}{29}\selectfont -7}};
\end{tikzpicture}
\end{document}
